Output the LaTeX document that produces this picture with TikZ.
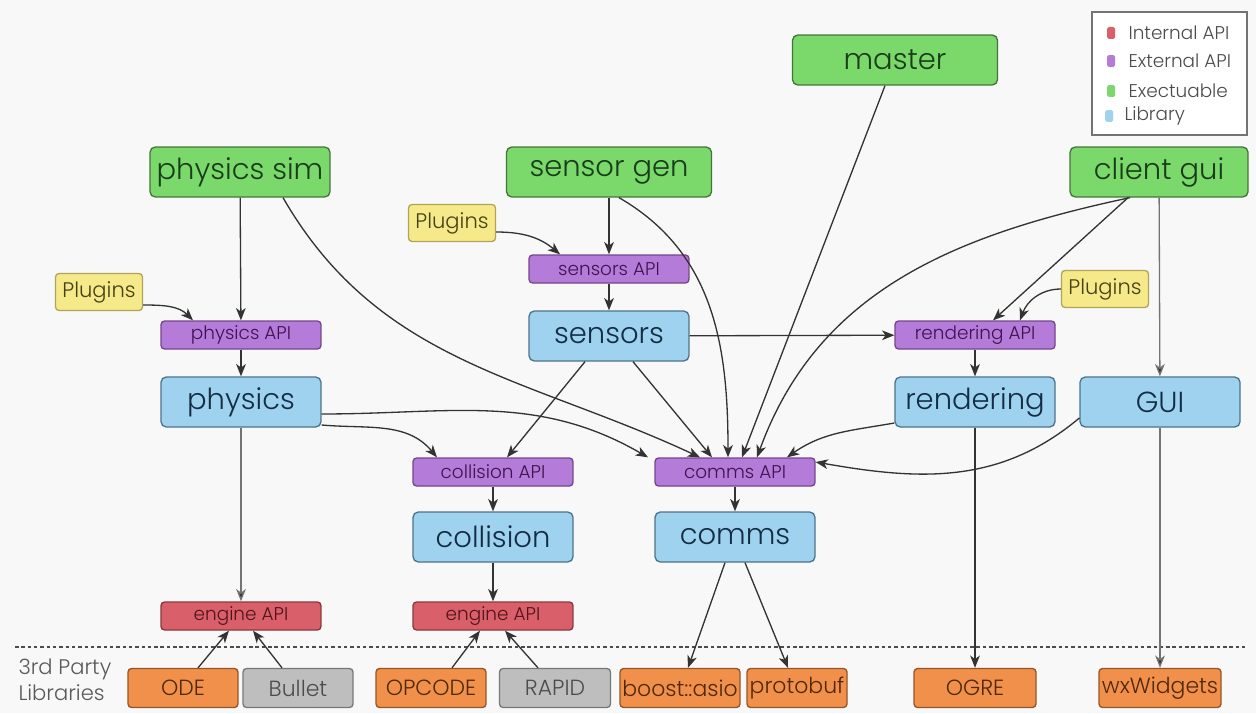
\documentclass[tikz,border=0pt]{standalone}
\usepackage{fontspec}
\setmainfont{Poppins}[UprightFont=* Light]
\usetikzlibrary{arrows.meta}

\definecolor{bgcol}{RGB}{248,248,248}
\definecolor{exefill}{RGB}{123,217,107}
\definecolor{exeline}{RGB}{70,115,60}
\definecolor{exetext}{RGB}{25,60,25}
\definecolor{libfill}{RGB}{159,210,238}
\definecolor{libline}{RGB}{75,115,140}
\definecolor{libtext}{RGB}{20,45,70}
\definecolor{extfill}{RGB}{181,123,217}
\definecolor{extline}{RGB}{115,70,140}
\definecolor{exttext}{RGB}{60,20,80}
\definecolor{intfill}{RGB}{217,96,106}
\definecolor{intline}{RGB}{140,55,60}
\definecolor{inttext}{RGB}{80,20,25}
\definecolor{tpfill}{RGB}{240,144,74}
\definecolor{tpline}{RGB}{150,85,40}
\definecolor{tptext}{RGB}{80,40,10}
\definecolor{gryfill}{RGB}{190,190,190}
\definecolor{gryline}{RGB}{120,120,120}
\definecolor{plgfill}{RGB}{245,233,138}
\definecolor{plgline}{RGB}{175,165,90}
\definecolor{plgtext}{RGB}{70,65,20}

\newcommand{\bigtxt}{\fontsize{16.5}{20}\selectfont}
\newcommand{\apitxt}{\fontsize{10.5}{12}\selectfont}
\newcommand{\plgtxt}{\fontsize{12}{14}\selectfont}
\newcommand{\tptxt}{\fontsize{12.5}{15}\selectfont}
\newcommand{\keytxt}{\fontsize{10.5}{12}\selectfont}

\tikzstyle{exe}=[shape=rectangle,
                 rounded corners=3pt,
                 draw=exeline,
                 fill=exefill,
                 text=exetext,
                 minimum height=1cm,
                 font=\bigtxt]
\tikzstyle{lib}=[shape=rectangle,
                 rounded corners=3pt,
                 draw=libline,
                 fill=libfill,
                 text=libtext,
                 minimum height=1cm,
                 minimum width=3.2cm,
                 font=\bigtxt]
\tikzstyle{ext}=[shape=rectangle,
                 rounded corners=2pt,
                 draw=extline,
                 fill=extfill,
                 text=exttext,
                 minimum height=0.56cm,
                 minimum width=3.2cm,
                 inner sep=1pt,
                 font=\apitxt]
\tikzstyle{int}=[shape=rectangle,
                 rounded corners=2pt,
                 draw=intline,
                 fill=intfill,
                 text=inttext,
                 minimum height=0.56cm,
                 minimum width=3.2cm,
                 inner sep=1pt,
                 font=\apitxt]
\tikzstyle{plg}=[shape=rectangle,
                 rounded corners=2pt,
                 draw=plgline,
                 fill=plgfill,
                 text=plgtext,
                 minimum height=0.74cm,
                 minimum width=1.74cm,
                 inner sep=1pt,
                 font=\plgtxt]
\tikzstyle{tp}=[shape=rectangle,
                rounded corners=2pt,
                draw=tpline,
                fill=tpfill,
                text=tptext,
                minimum height=0.78cm,
                inner sep=1pt,
                font=\tptxt]
\tikzstyle{gry}=[tp,
                 draw=gryline,
                 fill=gryfill,
                 text=black!70]
\tikzstyle{key}=[shape=rectangle,
                 rounded corners=1pt,
                 minimum width=0.16cm,
                 minimum height=0.24cm,
                 inner sep=0pt]

\begin{document}
\begin{tikzpicture}[>={Stealth[length=7pt,width=5.5pt,inset=2pt]}, x=0.02cm, y=-0.02cm, line width=0.75pt, draw=black!80]

\fill[bgcol] (0,0) rectangle (1256,713);
\useasboundingbox (0,0) rectangle (1256,713);

% executables
\node[exe, minimum width=3.6cm] (physim) at (240,172) {physics sim};
\node[exe, minimum width=4.1cm] (sensgen) at (609,172) {sensor gen};
\node[exe, minimum width=4.1cm] (master) at (895,60) {master};
\node[exe, minimum width=3.56cm] (clientgui) at (1159,172) {client gui};

% plugins
\node[plg] (plugphy) at (99,292) {Plugins};
\node[plg] (plugsen) at (452,223) {Plugins};
\node[plg] (plugren) at (1105,289) {Plugins};

% external APIs
\node[ext] (physapi) at (241,335) {physics API};
\node[ext] (sensapi) at (609,269) {sensors API};
\node[ext] (rendapi) at (975,335) {rendering API};
\node[ext] (collapi) at (493,472) {collision API};
\node[ext] (commapi) at (735,472) {comms API};

% libraries
\node[lib] (sensors) at (609,336) {sensors};
\node[lib] (physics) at (241,402) {physics};
\node[lib] (rendering) at (975,402) {rendering};
\node[lib] (gui) at (1160,402) {GUI};
\node[lib] (collision) at (493,537) {collision};
\node[lib] (comms) at (735,537) {comms};

% internal APIs
\node[int] (engphy) at (241,616) {engine API};
\node[int] (engcol) at (493,616) {engine API};

% 3rd party libraries
\draw[black!70, line width=0.6pt, dash pattern=on 2pt off 1.6pt] (15,647) -- (1245,647);
\node[anchor=west, align=left, text=black!65, font=\fontsize{12}{15}\selectfont] (tplabel) at (12,680) {3rd Party\\Libraries};
\node[tp, minimum width=2.2cm] (ode) at (183,688) {ODE};
\node[gry, minimum width=2.2cm] (bullet) at (298,688) {Bullet};
\node[tp, minimum width=2.2cm] (opcode) at (431,688) {OPCODE};
\node[gry, minimum width=2.22cm] (rapid) at (555,688) {RAPID};
\node[tp, minimum width=2.4cm] (asio) at (680,688) {boost::asio};
\node[tp, minimum width=2.0cm] (protobuf) at (797,688) {protobuf};
\node[tp, minimum width=2.44cm] (ogre) at (975,688) {OGRE};
\node[tp, minimum width=2.44cm] (wx) at (1160,688) {wxWidgets};

% legend
\node[draw=black!55, fill=white, minimum width=3.1cm, minimum height=2.46cm] (legend) at (1169.5,73.5) {};
\node[key, fill=intfill] (kint) at (1111,33) {};
\node[key, fill=extfill] (kext) at (1111,61) {};
\node[key, fill=exefill] (kexe) at (1111,91) {};
\node[key, fill=libfill] (klib) at (1109,116) {};
\node[anchor=west, font=\keytxt, text=black!70] (tint) at (1122,33) {Internal API};
\node[anchor=west, font=\keytxt, text=black!70] (text) at (1122,61) {External API};
\node[anchor=west, font=\keytxt, text=black!70] (texe) at (1122,91) {Exectuable};
\node[anchor=west, font=\keytxt, text=black!70] (tlib) at (1118,116) {Library};

% straight paths
\path[->] (physim) edge (physapi)
          (physapi) edge (physics)
          (sensgen) edge (sensapi)
          (sensapi) edge (sensors)
          (sensors) edge (rendapi)
          (rendapi) edge (rendering)
          (rendering) edge (ogre)
          (collapi) edge (collision)
          (collision) edge (engcol)
          (commapi) edge (comms);

\path[->, draw=black!55] (clientgui) edge (gui)
          (gui) edge (wx)
          (physics) edge (engphy);

\path[->] ([xshift=-0.2cm]master.south) edge ([xshift=0.14cm]commapi.north)
          ([xshift=-0.62cm]clientgui.south) edge ([xshift=0.36cm]rendapi.north)
          ([xshift=-0.48cm]sensors.south) edge ([xshift=0.28cm]collapi.north)
          ([xshift=0.48cm]sensors.south) edge ([xshift=-0.46cm]commapi.north)
          ([xshift=-0.2cm]comms.south) edge ([xshift=0.16cm]asio.north)
          ([xshift=0.2cm]comms.south) edge ([xshift=-0.18cm]protobuf.north)
          ([xshift=0.3cm]ode.north) edge ([xshift=-0.24cm]engphy.south)
          ([xshift=-0.32cm]bullet.north) edge ([xshift=0.24cm]engphy.south)
          ([xshift=0.42cm]opcode.north) edge ([xshift=-0.26cm]engcol.south)
          ([xshift=-0.34cm]rapid.north) edge ([xshift=0.24cm]engcol.south);

% curved paths
\path[->] ([yshift=-0.26cm]plugphy.east) edge[out=0, in=135] ([xshift=-0.96cm]physapi.north)
          ([yshift=-0.18cm]plugsen.east) edge[out=0, in=140] ([xshift=-0.98cm]sensapi.north)
          (plugren.west) edge[out=180, in=70] ([xshift=0.9cm]rendapi.north)
          ([xshift=0.86cm]physim.south) edge[out=-60, in=155] ([xshift=-0.7cm]commapi.north)
          ([yshift=-0.24cm]physics.east) edge[out=0, in=150] ([xshift=-1.74cm]commapi.north)
          ([yshift=-0.46cm]physics.east) edge[out=-5, in=130] ([xshift=-1.12cm]collapi.north)
          ([xshift=0.2cm]sensgen.south) edge[out=-30, in=90] ([xshift=-0.14cm]commapi.north)
          ([xshift=-0.58cm]clientgui.south) edge[out=192, in=70] ([xshift=0.44cm]commapi.north)
          ([yshift=-0.42cm]rendering.west) edge[out=190, in=35] ([xshift=1.04cm]commapi.north)
          ([yshift=-0.32cm]gui.west) edge[out=220, in=-10] ([yshift=0.2cm]commapi.east);

\end{tikzpicture}
\end{document}
